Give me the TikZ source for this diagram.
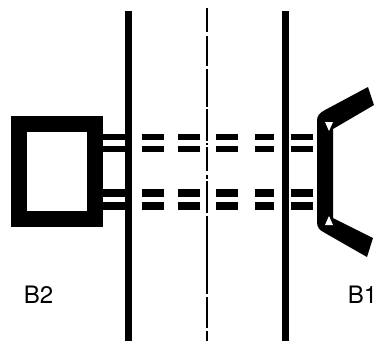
\documentclass[tikz,border=0pt]{standalone}
\usepackage{fontspec}
\setmainfont{TeX Gyre Heros}
\tikzset{
  wall/.style={line width=7pt},
  frame/.style={line width=16pt},
  lead/.style={fill=black},
  axisline/.style={line width=2.5pt},
  hole/.style={fill=white},
  lab/.style={font=\fontsize{24}{26}\selectfont, anchor=base}
}
\newcommand{\barrow}[2]{%
  \foreach \a/\b in {103/125,142/164,178/200,216/238,255/274,291/313}{
    \fill (\a pt,-#1 pt) rectangle (\b pt,-#2 pt);
  }
}
\begin{document}
\begin{tikzpicture}[x=1pt,y=1pt]
\useasboundingbox (0,0) rectangle (376,-341);
% walls
\draw[wall] (128.5,-11) -- (128.5,-341);
\draw[wall] (285.5,-11) -- (285.5,-341);
% centre line
\foreach \a/\b in {8/32,36/66,69/107,109/141,143/145,147/171,175/179,181/213,216/294,297/328,331/341}{
  \draw[axisline] (207,-\a) -- (207,-\b);
}
% box B2
\draw[frame] (19,-124) rectangle (95,-219);
% leads
\barrow{134}{140}
\barrow{146}{152}
\barrow{189}{197}
\barrow{202}{210}
% bracket B1
\fill (368,-87) -- (374,-105) -- (333,-129) -- (333,-218) -- (373,-238) -- (367,-257)
  -- (325,-233) .. controls (319,-230) and (317,-227) .. (317,-222)
  -- (317,-121) .. controls (317,-116) and (319,-113) .. (325,-110) -- cycle;
\fill[hole] (325,-122) -- (333,-122) -- (329,-131) -- cycle;
\fill[hole] (325,-225) -- (333,-225) -- (329,-216) -- cycle;
% labels
\node[lab] (b2) at (38.5,-303) {B2};
\node[lab] (b1) at (362.5,-303) {B1};
\end{tikzpicture}
\end{document}
